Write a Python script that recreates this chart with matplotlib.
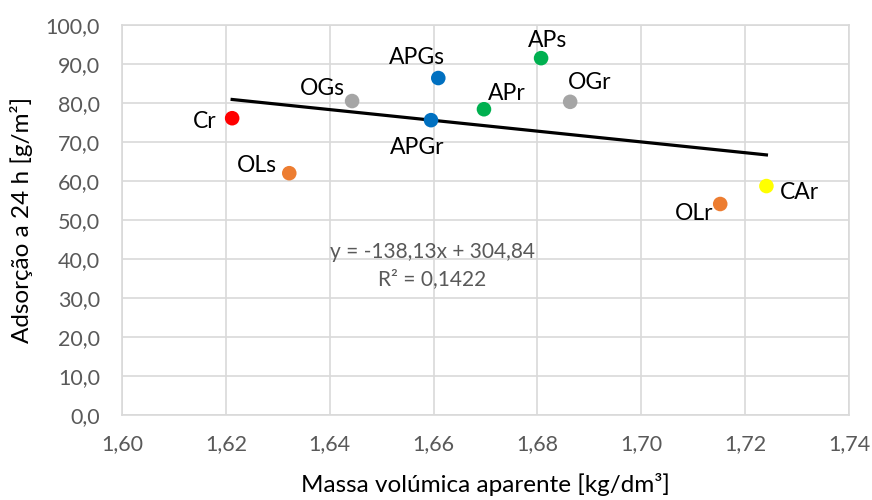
import matplotlib
matplotlib.use("Agg")
import matplotlib.pyplot as plt
import numpy as np

plt.rcParams['font.family'] = ['Lato', 'DejaVu Sans']

labels = ["Cr", "OLs", "OGs", "APGs", "APGr", "APr", "APs", "OGr", "OLr", "CAr"]
density = [1.6212, 1.6322, 1.6443, 1.6609, 1.6595, 1.6697, 1.6807, 1.6863, 1.7152, 1.7241]
absorption = [76.1, 62.0, 80.5, 86.4, 75.6, 78.4, 91.5, 80.3, 54.1, 58.7]
colors = ["#FF0000", "#ED7D31", "#A5A5A5", "#0070C0", "#0070C0", "#00B050", "#00B050",
          "#A5A5A5", "#ED7D31", "#FFFF00"]
slope, intercept, r2 = -138.13, 304.84, 0.1422

# label offsets in pixels and alignment
offsets = [(-16, -3, 'right'), (-12, 8, 'right'), (-7, 13, 'right'), (-21, 21, 'center'),
           (-14, -27, 'center'), (23, 16, 'center'), (6, 18, 'center'), (19, 19, 'center'),
           (-7, -9, 'right'), (13, -6, 'left')]

fig = plt.figure(figsize=(8.72, 5.0), dpi=100)
ax = fig.add_axes([0.140, 0.17, 0.8336, 0.78])

ax.set_xlim(1.60, 1.74)
ax.set_ylim(0, 100)
ax.set_xticks(np.arange(1.60, 1.7401, 0.02))
ax.set_yticks(np.arange(0, 100.1, 10))
ax.set_xticklabels([f"{v:.2f}".replace('.', ',') for v in np.arange(1.60, 1.7401, 0.02)])
ax.set_yticklabels([f"{v:.1f}".replace('.', ',') for v in np.arange(0, 100.1, 10)])
ax.grid(True, color="#D9D9D9", linewidth=1.2)
ax.set_axisbelow(True)
for s in ax.spines.values():
    s.set_color("#D9D9D9")
    s.set_linewidth(1.2)
ax.tick_params(length=0, labelsize=15.5, colors="#595959")
ax.tick_params(axis='y', pad=16)
ax.tick_params(axis='x', pad=14)

# trendline
xs = np.array([min(density), max(density)])
ax.plot(xs, slope * xs + intercept, color="black", linewidth=2.3, zorder=2)

ax.scatter(density, absorption, s=110, c=colors, zorder=3, edgecolors='none')

for x, y, lab, (dx, dy, ha) in zip(density, absorption, labels, offsets):
    ax.annotate(lab, (x, y), xytext=(dx, dy), textcoords='offset pixels',
                ha=ha, va='center', fontsize=16.5, color="black")

ax.text(1.6597, 41.8, f"y = {slope:.2f}x + {intercept:.2f}".replace('.', ','),
        ha='center', va='center', fontsize=15, color="#595959")
ax.text(1.6597, 34.9, f"R² = {r2:.4f}".replace('.', ','),
        ha='center', va='center', fontsize=15, color="#595959")

ax.set_xlabel("Massa volúmica aparente [kg/dm³]", fontsize=17.5, color="#000000", labelpad=13)
ax.set_ylabel("Adsorção a 24 h [g/m²]", fontsize=17.5, color="#000000", labelpad=9)

fig.savefig("out.png", dpi=100)
